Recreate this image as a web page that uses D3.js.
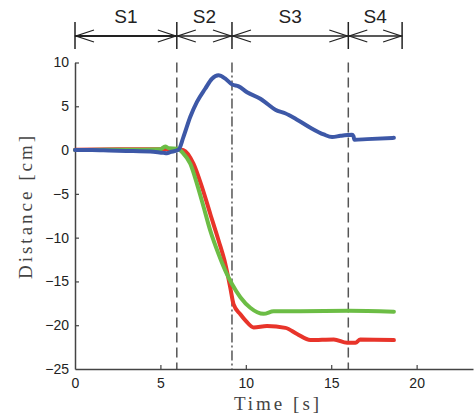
<!DOCTYPE html>
<html>
<head>
<meta charset="utf-8">
<script src="https://cdn.jsdelivr.net/npm/d3@7"></script>
<style>
  body { margin: 0; background: #fff; }
  svg { display: block; }
</style>
</head>
<body>
<div id="chart"></div>
<script>
const w = 475;
const h = 420;

// Données
const blueT = [0, 1, 2, 3, 3.4, 4.4, 5.18, 5.38, 5.57, 6.06, 6.35, 6.75, 7.14, 7.62, 8.02, 8.4, 8.8, 9.19, 9.58, 10.07, 10.85, 11.24, 11.73, 12.3, 13.0, 13.78, 14.56, 15.05, 15.54, 16.22, 16.3, 16.36, 17.1, 18.67];
const blueV = [0, 0, -0.05, -0.1, -0.12, -0.16, -0.32, -0.35, -0.24, 0.03, 1.5, 3.8, 5.5, 7.0, 8.15, 8.53, 8.15, 7.5, 7.27, 6.6, 5.86, 5.3, 4.6, 4.2, 3.47, 2.55, 1.78, 1.48, 1.63, 1.75, 1.6, 1.18, 1.25, 1.4];

const redT = [0, 3, 5, 6.0, 6.35, 6.94, 7.43, 7.92, 8.41, 8.8, 9.09, 9.28, 9.68, 10.0, 10.46, 11.24, 12.32, 13.0, 13.78, 15.15, 15.93, 16.42, 16.7, 18.67];
const redV = [0.05, 0.1, 0.1, 0.1, 0.0, -1.57, -4.2, -7.3, -10.35, -13.0, -15.7, -17.6, -18.75, -19.5, -20.25, -20.1, -20.3, -21.0, -21.7, -21.63, -22.0, -22.0, -21.63, -21.7];

const greenT = [0, 2, 4, 5.0, 5.28, 5.5, 6.0, 6.3, 6.75, 7.14, 7.53, 7.92, 8.41, 8.9, 9.19, 9.68, 10.26, 11.04, 11.63, 13.2, 16.0, 18.67];
const greenV = [0, 0.05, 0.05, 0.1, 0.4, 0.2, 0.15, -0.3, -1.57, -3.86, -6.5, -9.2, -11.9, -14.2, -15.3, -16.8, -18.0, -18.7, -18.4, -18.4, -18.35, -18.45];

// Phases (limites en secondes)
const phaseNames = ["S1", "S2", "S3", "S4"];
const phaseBounds = [0, 5.96, 9.19, 16.0, 19.15];
const phaseStyles = ["dash", "dashdot", "dash"];

const xTicks = [0, 5, 10, 15, 20];
const yTicks = [10, 5, 0, -5, -10, -15, -20, -25];

const x = d3.scaleLinear().domain([0, 23.3]).range([75, 473]);
const y = d3.scaleLinear().domain([-25, 10]).range([369, 62.5]);

const svg = d3.select("#chart").append("svg")
  .attr("width", w)
  .attr("height", h);

// Lignes verticales des phases
phaseBounds.slice(1, 4).forEach((b, i) => {
  svg.append("line")
    .attr("x1", x(b)).attr("x2", x(b))
    .attr("y1", y(10)).attr("y2", y(-25))
    .attr("stroke", "#555")
    .attr("stroke-width", 1.5)
    .attr("stroke-dasharray", phaseStyles[i] === "dash" ? "10,5" : "10,3,2,3");
});

// Axes
const xAxis = d3.axisBottom(x).tickValues(xTicks).tickSizeInner(-4).tickSizeOuter(0).tickPadding(9);
const yAxis = d3.axisLeft(y).tickValues(yTicks).tickSizeInner(-4).tickSizeOuter(0).tickPadding(6)
  .tickFormat(d => d < 0 ? "\u2212" + Math.abs(d) : d);

const gx = svg.append("g").attr("transform", `translate(0,${y(-25)})`).call(xAxis);
const gy = svg.append("g").attr("transform", `translate(${x(0)},0)`).call(yAxis);

[gx, gy].forEach(g => {
  g.select(".domain").attr("stroke", "#444").attr("stroke-width", 1.5);
  g.selectAll(".tick line").attr("stroke", "#444").attr("stroke-width", 1.2);
  g.selectAll(".tick text")
    .attr("fill", "#222")
    .style("font-family", "'Liberation Sans', Arial, sans-serif")
    .style("font-size", "14px");
});
gx.selectAll(".tick line").filter(d => d === 0).remove();
gy.selectAll(".tick line").filter(d => d === -25).remove();

// Courbes
const line = d3.line()
  .x(d => x(d[0]))
  .y(d => y(d[1]))
  .curve(d3.curveMonotoneX);

const series = [
  { t: redT, v: redV, color: "#e8342a" },
  { t: greenT, v: greenV, color: "#6cbd45" },
  { t: blueT, v: blueV, color: "#3d58a7" }
];

series.forEach(s => {
  svg.append("path")
    .datum(s.t.map((t, i) => [t, s.v[i]]))
    .attr("fill", "none")
    .attr("stroke", s.color)
    .attr("stroke-width", 4)
    .attr("stroke-linejoin", "round")
    .attr("stroke-linecap", "round")
    .attr("d", line);
});

// Flèches des phases en haut
const arrowY = 36;
const phaseGroup = svg.append("g");
phaseBounds.forEach(b => {
  phaseGroup.append("line")
    .attr("x1", x(b)).attr("x2", x(b))
    .attr("y1", 22).attr("y2", 49)
    .attr("stroke", "#222").attr("stroke-width", 1.5);
});
phaseNames.forEach((name, i) => {
  const x0 = x(phaseBounds[i]);
  const x1 = x(phaseBounds[i + 1]);
  phaseGroup.append("line")
    .attr("x1", x0).attr("x2", x1)
    .attr("y1", arrowY).attr("y2", arrowY)
    .attr("stroke", "#222")
    .attr("stroke-width", i === 0 ? 2.2 : 1.3);
  const al = 19, ah = 6;
  phaseGroup.append("path")
    .attr("d", `M${x0 + al},${arrowY - ah}L${x0 + 1},${arrowY}L${x0 + al},${arrowY + ah}`)
    .attr("fill", "none").attr("stroke", "#222").attr("stroke-width", 1.3);
  phaseGroup.append("path")
    .attr("d", `M${x1 - al},${arrowY - ah}L${x1 - 1},${arrowY}L${x1 - al},${arrowY + ah}`)
    .attr("fill", "none").attr("stroke", "#222").attr("stroke-width", 1.3);
  phaseGroup.append("text")
    .attr("x", (x0 + x1) / 2)
    .attr("y", 23)
    .attr("text-anchor", "middle")
    .attr("fill", "#222")
    .style("font-family", "'Liberation Sans', Arial, sans-serif")
    .style("font-size", "19px")
    .text(name);
});

// Titres des axes
svg.append("text")
  .attr("x", 278)
  .attr("y", 410)
  .attr("text-anchor", "middle")
  .attr("fill", "#444")
  .style("font-family", "'Liberation Serif', 'DejaVu Serif', serif")
  .style("font-size", "19px")
  .style("letter-spacing", "3px")
  .text("Time [s]");

svg.append("text")
  .attr("transform", "translate(32,206) rotate(-90)")
  .attr("text-anchor", "middle")
  .attr("fill", "#444")
  .style("font-family", "'Liberation Serif', 'DejaVu Serif', serif")
  .style("font-size", "19px")
  .style("letter-spacing", "3px")
  .text("Distance [cm]");
</script>
</body>
</html>
